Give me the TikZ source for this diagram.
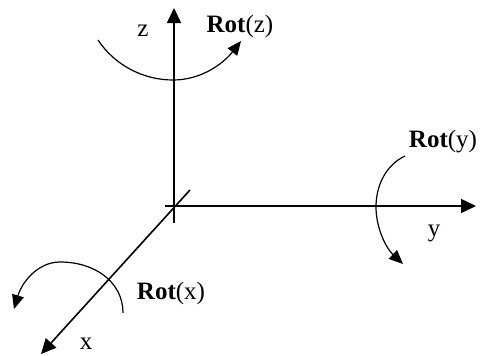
\documentclass[tikz,border=0pt]{standalone}
\usepackage{fontspec}
\setmainfont{Liberation Serif}
\usetikzlibrary{arrows.meta}
\begin{document}
\begin{tikzpicture}[x=1pt,y=-1pt,
  axis/.style={line width=1.6pt,-{Triangle[length=15pt,width=14pt]}},
  rot/.style={line width=1.2pt,-{Triangle[length=14pt,width=12pt]}},
  lbl/.style={inner sep=0pt,font=\fontsize{25}{29}\selectfont}]
\useasboundingbox (0,0) rectangle (480,356);
% axes
\coordinate (zb) at (174,223);
\coordinate (zt) at (174,8);
\coordinate (yb) at (165,206);
\coordinate (yt) at (476,206);
\coordinate (xb) at (190,190);
\coordinate (xt) at (41,354);
\draw[axis] (zb) -- (zt);
\draw[axis] (yb) -- (yt);
\draw[axis] (xb) -- (xt);
% rotation arcs
\coordinate (rz0) at (98,40);
\coordinate (rz1) at (173,80);
\coordinate (rz2) at (241,41);
\draw[rot] (rz0) .. controls (114.6,65) and (143,80) .. (rz1)
  .. controls (201,80) and (223,64) .. (rz2);
\coordinate (ry0) at (405,156);
\coordinate (ry1) at (376,207);
\coordinate (ry2) at (403,264);
\draw[rot] (ry0) .. controls (384,166) and (376,188) .. (ry1)
  .. controls (376,228) and (386,248) .. (ry2);
\coordinate (rx0) at (123,313);
\coordinate (rx1) at (60,262);
\coordinate (rx2) at (14,309);
\draw[rot] (rx0) .. controls (123,282) and (95,262) .. (rx1)
  .. controls (38,262) and (22,282) .. (rx2);
% labels
\node[lbl] (lz) at (143,31) {z};
\node[lbl] (lrz) at (240,26) {\textbf{Rot}(z)};
\node[lbl] (lry) at (443,142) {\textbf{Rot}(y)};
\node[lbl] (ly) at (434,233) {y};
\node[lbl] (lrx) at (171,293) {\textbf{Rot}(x)};
\node[lbl] (lx) at (86,344) {x};
\end{tikzpicture}
\end{document}
